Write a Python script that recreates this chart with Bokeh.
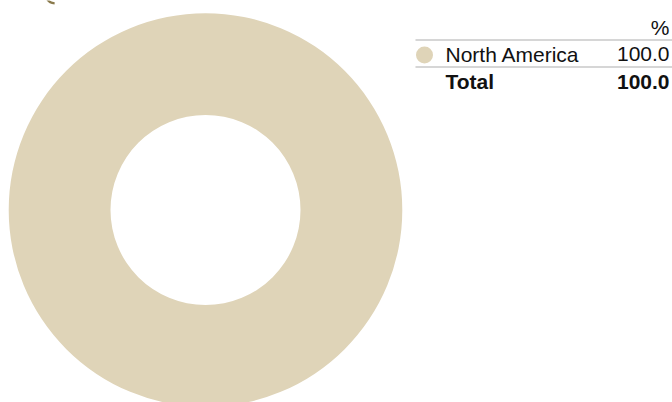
from bokeh.plotting import figure
from bokeh.models import Range1d, ColumnDataSource
from bokeh.core.properties import value
from bokeh.embed import file_html
from bokeh.resources import INLINE
import math

# ---- data ----
regions = ["North America"]
shares = [100.0]
colors = ["#DFD4B8"]
header = "%"
total_label = "Total"

W, H = 672, 402
total = sum(shares)

p = figure(width=W, height=H, output_backend="svg", toolbar_location=None,
           x_range=Range1d(0, W), y_range=Range1d(0, H),
           min_border=0, min_border_left=0, min_border_right=0,
           min_border_top=0, min_border_bottom=0)
p.axis.visible = False
p.grid.visible = False
p.outline_line_color = None
p.background_fill_color = "white"
p.border_fill_color = "white"

# donut from data
starts, ends = [], []
acc = 0.0
for v in shares:
    a0 = math.pi / 2 - 2 * math.pi * acc / total
    acc += v
    a1 = math.pi / 2 - 2 * math.pi * acc / total
    starts.append(a1)
    ends.append(a0)
src = ColumnDataSource(dict(start=starts, end=ends, color=colors))
cx, cy = 205, H - 209.5
if len(shares) == 1:
    p.annulus(x=cx, y=cy, inner_radius=95, outer_radius=196.8,
              fill_color=colors[0], line_color=None)
else:
    p.annular_wedge(x=cx, y=cy, inner_radius=95, outer_radius=196.8,
                    start_angle="start", end_angle="end", fill_color="color",
                    line_color=None, source=src)

# small cut-off decoration at top-left
p.arc(x=55, y=H + 7, radius=10, start_angle=math.radians(195),
      end_angle=math.radians(265), line_color="#8A7A4C", line_width=2.2)

# legend table
font = value("Liberation Sans")
fs = "21px"
xl, xr, xv = 415, 672, 669
p.text(x=[xv], y=[H - 26.5], text=[header], text_align="right",
       text_baseline="middle", text_font=font, text_font_size=fs,
       text_color="#111111")
p.line(x=[xl, xr], y=[H - 39.5, H - 39.5], line_color="#D6D6D6", line_width=2)
row_y = 53.5
for i, (r, v) in enumerate(zip(regions, shares)):
    yy = H - (row_y + i * 27)
    p.scatter(x=[424], y=[yy - 1], size=17, marker="circle",
              fill_color=colors[i], line_color=None)
    p.text(x=[445], y=[yy], text=[r], text_align="left", text_baseline="middle",
           text_font=font, text_font_size=fs, text_color="#111111")
    p.text(x=[xv], y=[yy], text=[f"{v:.1f}"], text_align="right",
           text_baseline="middle", text_font=font, text_font_size=fs,
           text_color="#111111")
ly = row_y + len(regions) * 27 - 14
p.line(x=[xl, xr], y=[H - ly, H - ly], line_color="#D6D6D6", line_width=2)
ty = ly + 14.5
p.text(x=[445], y=[H - ty], text=[total_label], text_align="left",
       text_baseline="middle", text_font=font, text_font_size=fs,
       text_font_style="bold", text_color="#111111")
p.text(x=[xv], y=[H - ty], text=[f"{total:.1f}"], text_align="right",
       text_baseline="middle", text_font=font, text_font_size=fs,
       text_font_style="bold", text_color="#111111")

open("out.html", "w").write(file_html(p, INLINE))
